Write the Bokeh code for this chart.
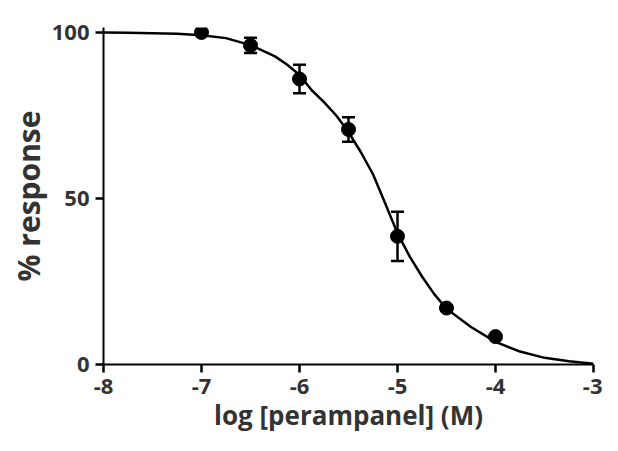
from bokeh.plotting import figure
from bokeh.models import Range1d, FixedTicker, ColumnDataSource, Whisker, TeeHead
from bokeh.embed import file_html
from bokeh.resources import INLINE

# measured data points
conc_log = [-7.0, -6.5, -6.0, -5.5, -5.0, -4.5, -4.0]
response = [100.0, 96.1, 86.0, 70.8, 38.6, 17.0, 8.4]
err = [0.0, 2.3, 4.3, 3.7, 7.4, 0.0, 0.0]

# fitted curve
curve_x = [-8, -7.75, -7.5, -7.25, -7, -6.75, -6.5, -6.25, -6.125, -6, -5.875, -5.75,
           -5.625, -5.5, -5.375, -5.25, -5.125, -5, -4.875, -4.75, -4.625, -4.5,
           -4.25, -4, -3.75, -3.5, -3.25, -3]
curve_y = [100, 99.9, 99.8, 99.6, 99.2, 98.3, 96.2, 92.8, 90.3, 87.2, 82.6, 79.0,
           75.0, 70.0, 64.0, 57.3, 48.5, 39.5, 32.5, 26.5, 21.2, 16.8,
           11.3, 6.8, 3.9, 2.0, 1.0, 0.2]

x_ticks = [-8, -7, -6, -5, -4, -3]
y_ticks = [0, 50, 100]

FONT = "Open Sans"
TXT = "#333333"

p = figure(width=602, height=435, output_backend="svg", toolbar_location=None,
           x_range=Range1d(-8, -3), y_range=Range1d(0, 101.5),
           min_border_left=103, min_border_right=9, min_border_top=27, min_border_bottom=71)
p.outline_line_color = None
p.xgrid.visible = False
p.ygrid.visible = False
p.background_fill_color = "white"

src = ColumnDataSource(dict(x=conc_log, y=response,
                            lo=[r - e for r, e in zip(response, err)],
                            hi=[r + e for r, e in zip(response, err)]))
p.line(curve_x, curve_y, line_color="black", line_width=2.5)
w = Whisker(source=src, base="x", lower="lo", upper="hi", line_color="black", line_width=2.5,
            upper_head=TeeHead(size=13, line_width=2.5, line_color="black"),
            lower_head=TeeHead(size=13, line_width=2.5, line_color="black"))
p.add_layout(w)
p.scatter("x", "y", source=src, size=14, marker="circle", fill_color="black", line_color="black")

for ax in (p.xaxis[0], p.yaxis[0]):
    ax.axis_line_width = 2
    ax.axis_line_color = "black"
    ax.major_tick_line_width = 2.5
    ax.major_tick_line_color = "black"
    ax.major_tick_out = 8
    ax.major_tick_in = 0
    ax.minor_tick_line_color = None
    ax.major_label_text_font = FONT
    ax.major_label_text_font_style = "bold"
    ax.major_label_text_font_size = "22px"
    ax.major_label_text_color = TXT
    ax.axis_label_text_font = FONT
    ax.axis_label_text_font_style = "bold"
    ax.axis_label_text_color = TXT

p.xaxis.ticker = FixedTicker(ticks=x_ticks)
p.yaxis.ticker = FixedTicker(ticks=y_ticks)
p.xaxis.major_label_overrides = {t: str(t) for t in x_ticks}
p.yaxis.major_label_overrides = {t: str(t) for t in y_ticks}
p.xaxis.axis_label = "log [perampanel] (M)"
p.yaxis.axis_label = "% response"
p.xaxis.axis_label_text_font_size = "26px"
p.yaxis.axis_label_text_font_size = "30px"
p.xaxis.major_label_standoff = 6
p.yaxis.major_label_standoff = 6
p.xaxis.axis_label_standoff = 0
p.yaxis.axis_label_standoff = 0

open("out.html", "w").write(file_html(p, INLINE))
